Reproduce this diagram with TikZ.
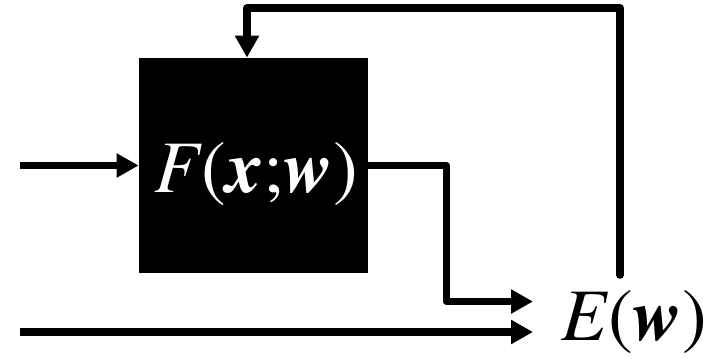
\documentclass[tikz,border=0pt]{standalone}
\usepackage{fontspec}
\setmainfont{texgyretermes-regular.otf}[ItalicFont=texgyretermes-italic.otf,BoldFont=texgyretermes-bold.otf,BoldItalicFont=texgyretermes-bolditalic.otf]
\usetikzlibrary{arrows.meta,positioning}

\newcommand{\bvec}[1]{\textbf{\textit{#1}}}

\begin{document}
\begin{tikzpicture}[x=0.5pt,y=-0.5pt,
    flow/.style={line width=3.75pt,line join=round,-{Triangle[length=11pt,width=11.5pt]}},
    blackbox/.style={fill=black,draw=none,minimum width=114.5pt,minimum height=107.5pt,inner sep=0pt},
    big/.style={font=\fontsize{37}{40}\selectfont,inner sep=0pt}]

  \useasboundingbox (0,0) rectangle (710,358);

  \node[blackbox] (F) at (253.5,165.5) {};
  \node[big,text=white,anchor=base] (Ftxt) at (256,192) {\textit{F}(\bvec{x};\bvec{w})};
  \node[big,anchor=base west,inner xsep=14pt] (E) at (533,340) {\textit{E}(\bvec{w})};

  \coordinate (inA) at (20,165.5);
  \coordinate (inB) at (20,332);
  \coordinate (fb) at (620,275);

  \draw[flow] (inA) -- (F.west);
  \draw[flow] (F.east) -- ++(78,0) |- (E.west |- 0,301.5);
  \draw[flow] (inB) -- (E.west |- 0,332);
  %feedback to the box
  \draw[flow,line cap=round] (fb) -- (620,8) -| (F.north -| 247,0);

\end{tikzpicture}
\end{document}
